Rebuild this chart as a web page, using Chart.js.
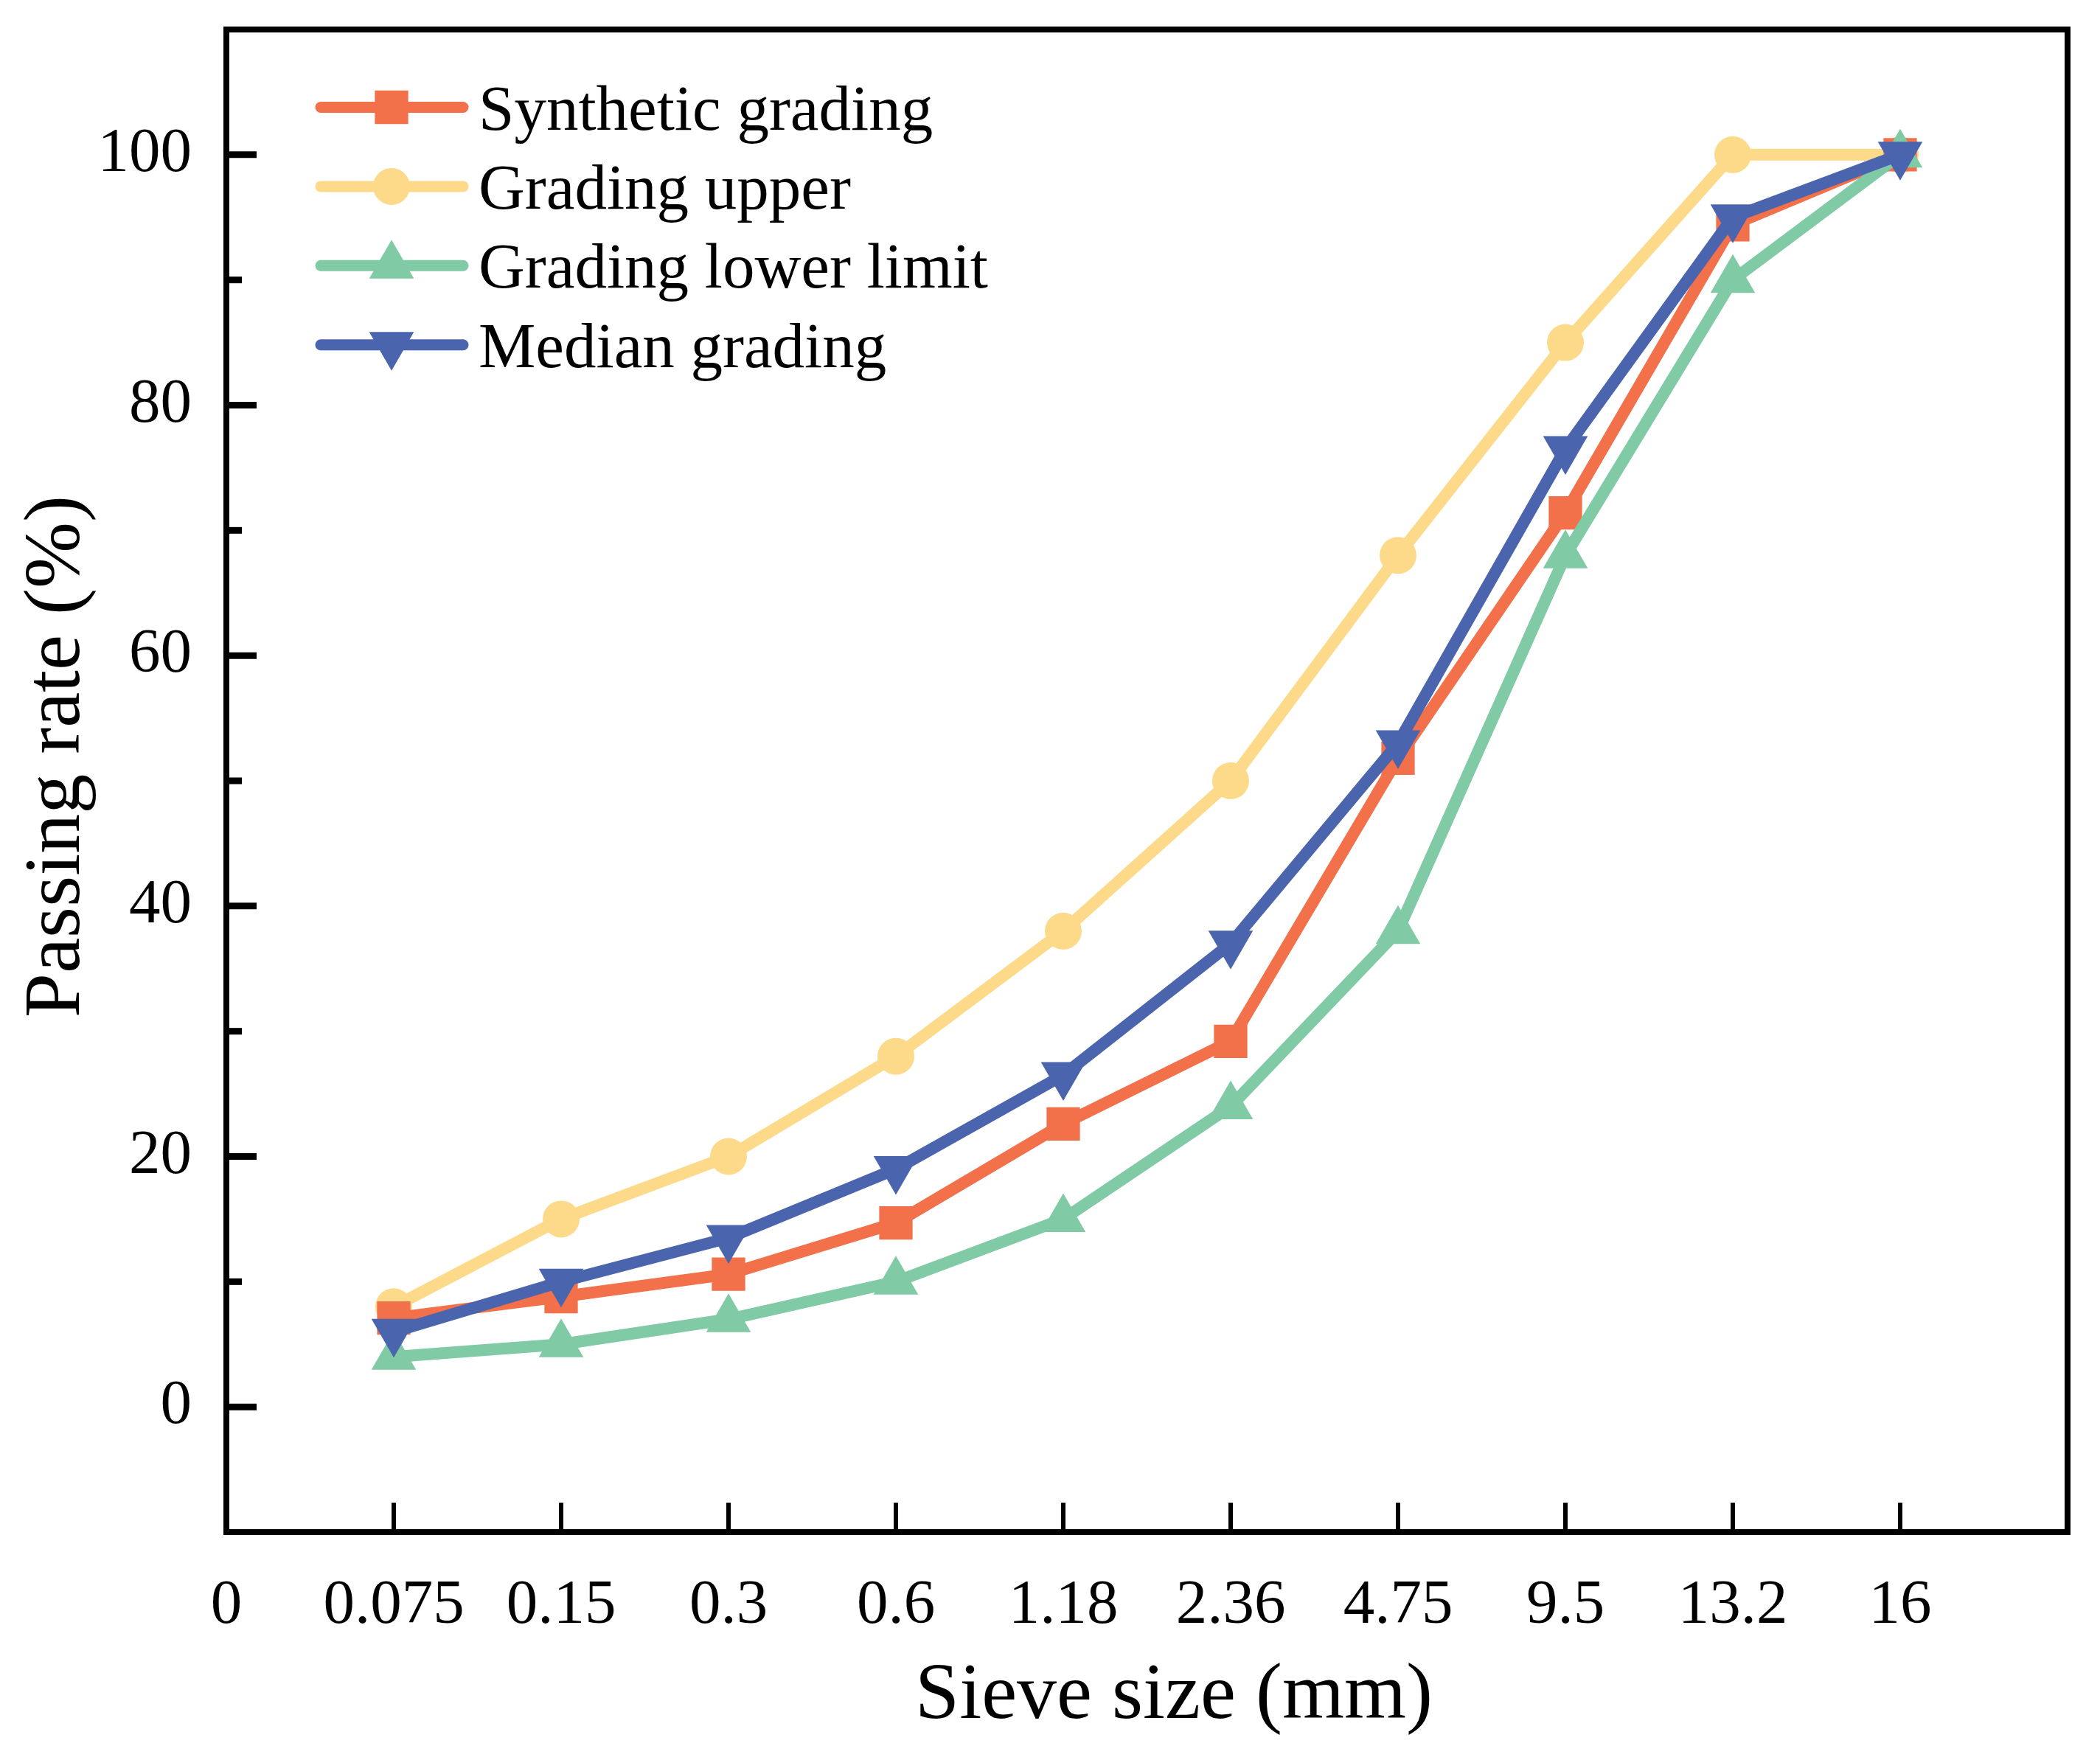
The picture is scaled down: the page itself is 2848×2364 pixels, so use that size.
<!DOCTYPE html>
<html><head><meta charset="utf-8">
<script src="https://cdn.jsdelivr.net/npm/chart.js@4.4.1/dist/chart.umd.min.js"></script>
<style>html,body{margin:0;padding:0;background:#fff;}canvas{display:block}</style>
</head><body>
<canvas id="c" width="2848" height="2364" style="width:2848px;height:2364px"></canvas>
<script>
// ---- data ----
const sieveSizes = ['0.075', '0.15', '0.3', '0.6', '1.18', '2.36', '4.75', '9.5', '13.2', '16'];
const xTickLabels = ['0', '0.075', '0.15', '0.3', '0.6', '1.18', '2.36', '4.75', '9.5', '13.2', '16'];
const syntheticGrading = [7.1, 8.8, 10.6, 14.7, 22.6, 29.2, 51.8, 71.4, 94.4, 100];
const gradingUpper = [8, 15, 20, 28, 38, 50, 68, 85, 100, 100];
const gradingLower = [4, 5, 7, 10, 15, 24, 38, 68, 90, 100];
const medianGrading = [6, 10, 13.5, 19, 26.5, 37, 53, 76.5, 95, 100];
const yMajorTicks = [0, 20, 40, 60, 80, 100];
const yMinorTicks = [10, 30, 50, 70, 90];
const seriesNames = ['Synthetic grading', 'Grading upper', 'Grading lower limit', 'Median grading'];
const xAxisTitle = 'Sieve size (mm)';
const yAxisTitle = 'Passing rate (%)';

const FONT = "'Liberation Serif', 'Times New Roman', serif";
const toPoints = arr => arr.map((v, i) => ({ x: i + 1, y: v }));

function ds(label, data, color, style, radius, rotation, order) {
  return {
    label, data: toPoints(data), borderColor: color, backgroundColor: color,
    pointBackgroundColor: color, pointBorderColor: color, pointBorderWidth: 0,
    pointStyle: style, pointRadius: radius, pointHoverRadius: radius, pointRotation: rotation,
    borderWidth: 16, tension: 0, order, clip: false
  };
}

const datasets = [
  ds(seriesNames[0], syntheticGrading, '#F2704A', 'rect', 32, 0, 2),
  ds(seriesNames[1], gradingUpper, '#FDD98A', 'circle', 25, 0, 3),
  ds(seriesNames[2], gradingLower, '#80CAA5', 'triangle', 35, 0, 1),
  ds(seriesNames[3], medianGrading, '#4A64AD', 'triangle', 35, 180, 0)
];

function drawMarker(ctx, style, r, rot, x, y) {
  ctx.beginPath();
  if (style === 'rect') {
    const s = Math.SQRT1_2 * r;
    ctx.rect(x - s, y - s, 2 * s, 2 * s);
  } else if (style === 'circle') {
    ctx.arc(x, y, r, 0, Math.PI * 2);
  } else {
    let a = rot * Math.PI / 180;
    for (let k = 0; k < 3; k++) {
      const px = x + Math.sin(a) * r, py = y - Math.cos(a) * r;
      k === 0 ? ctx.moveTo(px, py) : ctx.lineTo(px, py);
      a += 2 * Math.PI / 3;
    }
    ctx.closePath();
  }
  ctx.fill();
}

const decor = {
  id: 'decor',
  afterDraw(chart) {
    const ctx = chart.ctx, a = chart.chartArea;
    const xs = chart.scales.x, ys = chart.scales.y;
    ctx.save();
    ctx.strokeStyle = '#000';
    // ticks (inward)
    ctx.lineWidth = 9;
    yMajorTicks.forEach(v => { const p = ys.getPixelForValue(v); ctx.beginPath(); ctx.moveTo(a.left, p); ctx.lineTo(a.left + 41, p); ctx.stroke(); });
    yMinorTicks.forEach(v => { const p = ys.getPixelForValue(v); ctx.beginPath(); ctx.moveTo(a.left, p); ctx.lineTo(a.left + 21, p); ctx.stroke(); });
    ctx.lineWidth = 6;
    sieveSizes.forEach((s, i) => { const p = xs.getPixelForValue(i + 1); ctx.beginPath(); ctx.moveTo(p, a.bottom); ctx.lineTo(p, a.bottom - 40); ctx.stroke(); });
    // frame
    ctx.lineWidth = 8;
    ctx.strokeRect(a.left, a.top, a.right - a.left, a.bottom - a.top);
    // axis titles
    ctx.fillStyle = '#000';
    ctx.font = '108px ' + FONT;
    ctx.textAlign = 'center';
    ctx.textBaseline = 'alphabetic';
    ctx.fillText(xAxisTitle, 1592, 2330);
    ctx.save();
    ctx.translate(107, 1026);
    ctx.rotate(-Math.PI / 2);
    ctx.fillText(yAxisTitle, 0, 0);
    ctx.restore();
    // legend
    ctx.font = '87px ' + FONT;
    ctx.textAlign = 'left';
    chart.data.datasets.forEach((d, i) => {
      const y = 145.5 + i * 107.4;
      ctx.strokeStyle = d.borderColor;
      ctx.lineWidth = 15;
      ctx.lineCap = 'round';
      ctx.beginPath(); ctx.moveTo(435, y); ctx.lineTo(628, y); ctx.stroke();
      ctx.fillStyle = d.pointBackgroundColor;
      drawMarker(ctx, d.pointStyle, d.pointRadius, d.pointRotation, 531, y);
      ctx.fillStyle = '#000';
      ctx.fillText(d.label, 649, y + 30);
    });
    ctx.restore();
  }
};

new Chart(document.getElementById('c'), {
  type: 'line',
  data: { datasets },
  plugins: [decor],
  options: {
    responsive: false, devicePixelRatio: 1, animation: false,
    layout: { padding: { left: 0, top: 40, right: 44, bottom: 0 } },
    plugins: { legend: { display: false }, tooltip: { enabled: false } },
    scales: {
      x: {
        type: 'linear', min: 0, max: 11,
        afterBuildTicks: s => { s.ticks = xTickLabels.map((_, i) => ({ value: i })); },
        afterFit: s => { s.height = 286; s.paddingLeft = 0; s.paddingRight = 0; },
        ticks: { callback: v => xTickLabels[v] ?? '', font: { family: FONT, size: 85 }, color: '#000', padding: 50, maxRotation: 0, autoSkip: false },
        grid: { display: false, drawTicks: false }, border: { display: false }
      },
      y: {
        type: 'linear', min: -10, max: 110,
        afterBuildTicks: s => { s.ticks = yMajorTicks.map(v => ({ value: v })); },
        afterFit: s => { s.width = 307; s.paddingTop = 0; s.paddingBottom = 0; },
        ticks: { font: { family: FONT, size: 85 }, color: '#000', padding: 47 },
        grid: { display: false, drawTicks: false }, border: { display: false }
      }
    }
  }
});
</script>
</body></html>
